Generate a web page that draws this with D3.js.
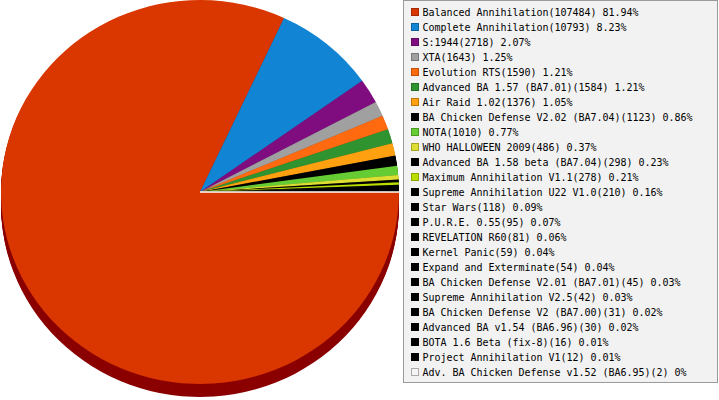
<!doctype html>
<html lang="en">
<head>
    <meta charset="UTF-8">
    <title>Mod popularity</title>
    <script src="https://d3js.org/d3.v7.min.js"></script>
    <style>
        body { margin: 0; background: #fff; }
        svg { display: block; }
    </style>
</head>
<body>
<div id="chart"></div>
<script>

    //names of the mods
    const mods = [
        "Balanced Annihilation", "Complete Annihilation", "S:1944", "XTA", "Evolution RTS",
        "Advanced BA 1.57 (BA7.01)", "Air Raid 1.02", "BA Chicken Defense V2.02 (BA7.04)", "NOTA",
        "WHO HALLOWEEN 2009", "Advanced BA 1.58 beta (BA7.04)", "Maximum Annihilation V1.1",
        "Supreme Annihilation U22 V1.0", "Star Wars", "P.U.R.E. 0.55", "REVELATION R60",
        "Kernel Panic", "Expand and Exterminate", "BA Chicken Defense V2.01 (BA7.01)",
        "Supreme Annihilation V2.5", "BA Chicken Defense V2 (BA7.00)", "Advanced BA v1.54 (BA6.96)",
        "BOTA 1.6 Beta (fix-8)", "Project Annihilation V1", "Adv. BA Chicken Defense v1.52 (BA6.95)"
    ];

    //games played per mod
    const games = [
        107484, 10793, 2718, 1643, 1590, 1584, 1376, 1123, 1010, 486, 298, 278,
        210, 118, 95, 81, 59, 54, 45, 42, 31, 30, 16, 12, 2
    ];

    //slice colours
    const colors = [
        "#d93600", "#1284d4", "#800d80", "#a0a0a0", "#ff6a10", "#2f942f", "#ffa010",
        "#000000", "#66cc33", "#dddd33", "#000000", "#bbdd00", "#000000", "#000000",
        "#000000", "#000000", "#000000", "#000000", "#000000", "#000000", "#000000",
        "#000000", "#000000", "#000000", "#f4f4f4"
    ];

    const width = 719, height = 400;
    const cx = 200, cy = 192, rx = 199, ry = 192, depth = 13;
    const charW = 6; // legend font is fixed width

    const total = d3.sum(games);
    const data = mods.map(function (m, i) {
        return {name: m, value: games[i], color: colors[i]};
    });

    let svg = d3.select("#chart").append("svg")
        .attr("width", width)
        .attr("height", height);

    //pie starts at 3 o'clock, clockwise
    let pie = d3.pie()
        .sort(null)
        .value(function (d) { return d.value; })
        .startAngle(Math.PI / 2)
        .endAngle(Math.PI / 2 + 2 * Math.PI);

    let arc = d3.arc()
        .innerRadius(0)
        .outerRadius(ry);

    let arcs = pie(data);

    //3d side: darker copies pushed down
    let side = svg.append("g")
        .attr("transform", "translate(" + cx + "," + (cy + depth) + ") scale(" + (rx / ry) + ",1)");
    for (let k = depth; k > 0; k--) {
        side.append("g")
            .attr("transform", "translate(0," + (k - depth) + ")")
            .selectAll("path")
            .data(arcs)
            .enter()
            .append("path")
            .attr("d", arc)
            .attr("fill", function (d) { return d.index === 0 ? "#8b0000" : d3.color(d.data.color).darker(1.2); });
    }

    //pie face
    let face = svg.append("g")
        .attr("transform", "translate(" + cx + "," + cy + ") scale(" + (rx / ry) + ",1)");

    face.selectAll("path")
        .data(arcs)
        .enter()
        .append("path")
        .attr("d", arc)
        .attr("fill", function (d) { return d.data.color; })
        .attr("stroke", function (d) { return d.index === data.length - 1 ? "#ffffff" : "none"; })
        .attr("stroke-width", 1.5);

    //legend
    let legend = svg.append("g").attr("class", "legend");

    legend.append("rect")
        .attr("x", 403.5)
        .attr("y", 0.5)
        .attr("width", 314)
        .attr("height", 382)
        .attr("fill", "#f2f2f2")
        .attr("stroke", "#9a9a9a");

    let rowY = d3.scaleLinear().domain([0, 1]).range([12.5, 27.5]);

    let rows = legend.selectAll(".row")
        .data(data)
        .enter()
        .append("g")
        .attr("class", "row")
        .attr("transform", function (d, i) { return "translate(0," + rowY(i) + ")"; });

    rows.append("rect")
        .attr("x", 411.5)
        .attr("y", -4)
        .attr("width", 7)
        .attr("height", 7)
        .attr("fill", function (d) { return d.color; })
        .attr("stroke", function (d, i) { return i === data.length - 1 ? "#aaaaaa" : d3.color(d.color).darker(0.8); });

    function label(d) {
        let pct = +(d.value / total * 100).toFixed(2);
        return d.name + "(" + d.value + ") " + pct + "%";
    }

    rows.append("text")
        .attr("x", 422.5)
        .attr("y", 3.5)
        .attr("font-family", "'DejaVu Sans Mono', 'Liberation Mono', monospace")
        .attr("font-size", 10)
        .attr("fill", "#000")
        .attr("textLength", function (d) { return label(d).length * charW; })
        .attr("lengthAdjust", "spacing")
        .text(label);

</script>
</body>
</html>
